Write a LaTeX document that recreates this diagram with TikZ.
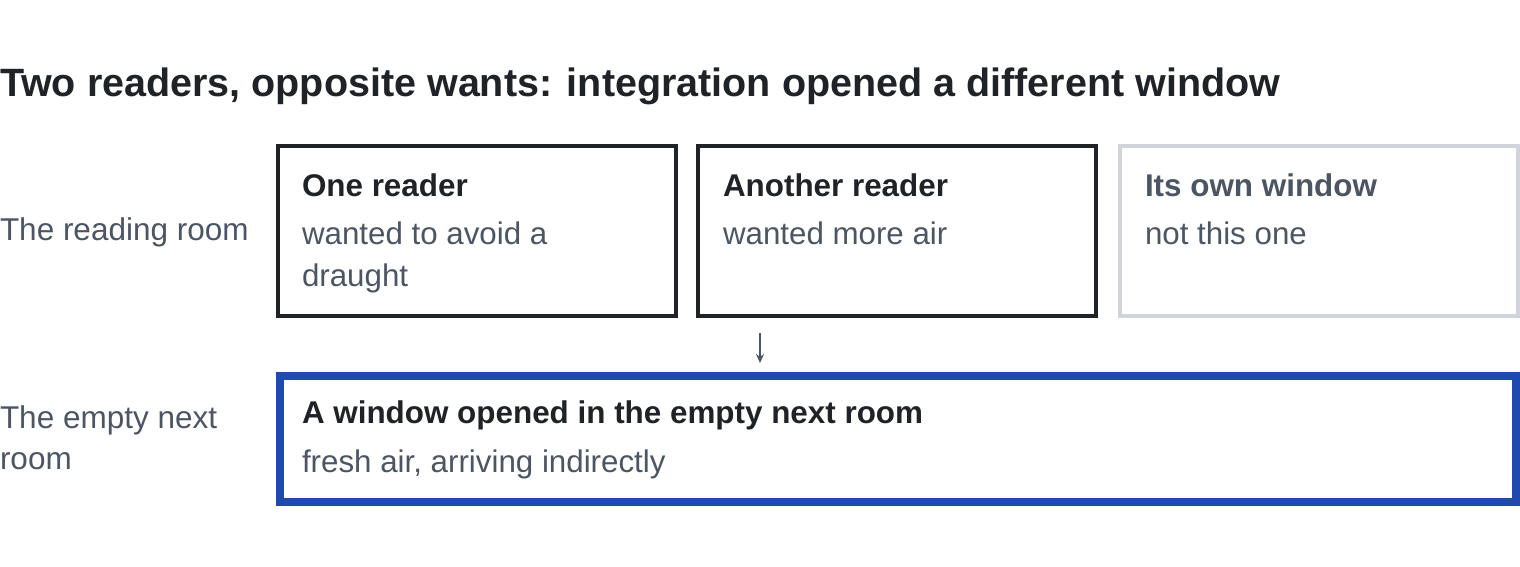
\documentclass[tikz,border=0pt]{standalone}
\usepackage{fontspec}
\setmainfont{Liberation Sans}
\usetikzlibrary{arrows.meta}
\definecolor{ink}{HTML}{1F2328}
\definecolor{muted}{HTML}{4B5563}
\definecolor{faint}{HTML}{D1D5DB}
\definecolor{accent}{HTML}{1E4AB0}
\tikzset{
  card/.style={draw=ink, line width=4pt, minimum width=398pt, minimum height=170pt, inner sep=0pt},
  ghostcard/.style={card, draw=faint},
  resultcard/.style={draw=accent, line width=8pt, minimum width=1236pt, minimum height=126pt, inner sep=0pt},
  txt/.style={anchor=base west, inner sep=0pt, outer sep=0pt},
  title/.style={txt, text=ink, font=\fontsize{39.5}{46}\selectfont\bfseries},
  head/.style={txt, text=ink, font=\fontsize{31.4}{40}\selectfont\bfseries},
  body/.style={txt, text=muted, font=\fontsize{31.3}{42}\selectfont},
  rowlabel/.style={txt, text=muted, font=\fontsize{31.5}{41}\selectfont},
  flow/.style={draw=muted, line width=2pt, -{Stealth[length=9pt,width=8pt]}}
}
\begin{document}
\begin{tikzpicture}[x=1pt,y=-1pt]
\useasboundingbox (0,0) rectangle (1520,566);
\node[title] (t) at (0,96) {Two readers, opposite wants: integration opened a different window};

\node[rowlabel] (l1) at (0,240) {The reading room};
\node[rowlabel] (l2) at (0,428) {The empty next};
\node[rowlabel] (l3) at (0,469) {room};

\node[card] (b1) at (477,231) {};
\node[card] (b2) at (897,231) {};
\node[ghostcard] (b3) at (1319,231) {};
\node[resultcard] (b4) at (898,439) {};

\node[head] (h1) at (302,196) {One reader};
\node[body] (s1a) at (302,244) {wanted to avoid a};
\node[body] (s1b) at (302,286) {draught};

\node[head] (h2) at (723,196) {Another reader};
\node[body] (s2) at (723,244) {wanted more air};

\node[head, text=muted] (h3) at (1145,196) {Its own window};
\node[body] (s3) at (1145,244) {not this one};

\node[head] (h4) at (302,423) {A window opened in the empty next room};
\node[body] (s4) at (302,472) {fresh air, arriving indirectly};

\coordinate (a1) at (760,333);
\coordinate (a2) at (760,363);
\draw[flow] (a1) -- (a2);
\end{tikzpicture}
\end{document}
